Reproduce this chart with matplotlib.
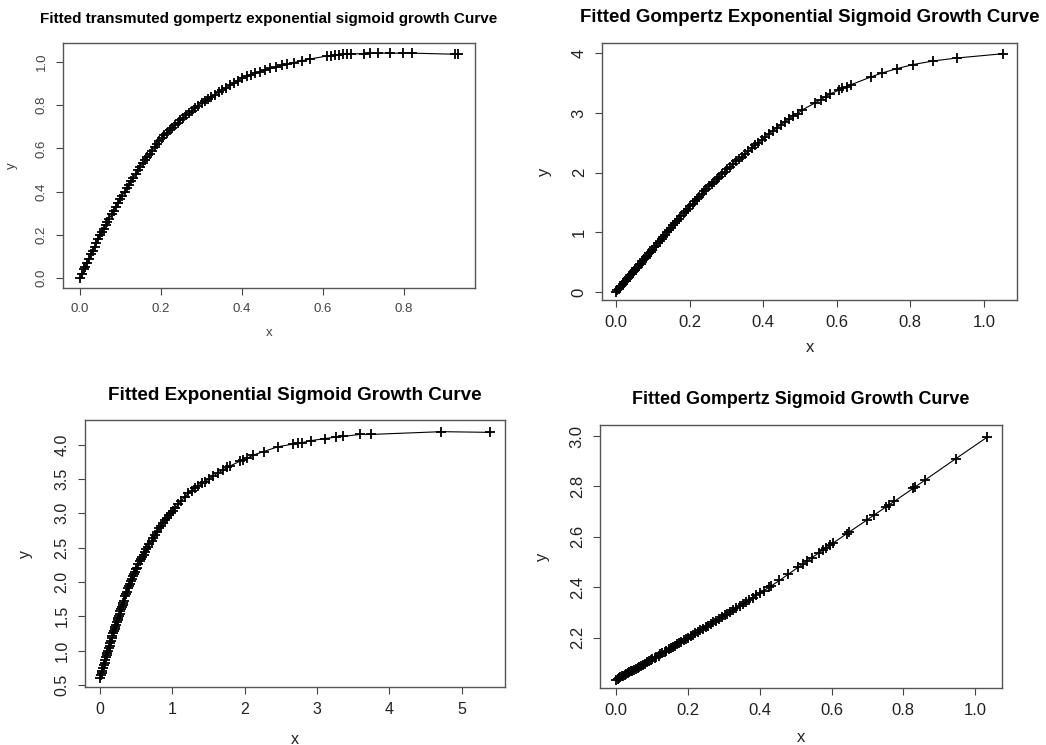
import matplotlib
matplotlib.use("Agg")
import matplotlib.pyplot as plt

plt.rcParams["font.family"] = ["Liberation Sans", "DejaVu Sans"]

# panel 1: transmuted gompertz exponential
x1 = [0.000, 0.005, 0.010, 0.013, 0.018, 0.022, 0.027, 0.031, 0.036, 0.040, 0.045, 0.050,
      0.054, 0.058, 0.063, 0.067, 0.072, 0.078, 0.083, 0.088, 0.094, 0.099, 0.104, 0.110,
      0.115, 0.121, 0.126, 0.132, 0.138, 0.143, 0.149, 0.155, 0.160, 0.166, 0.172, 0.178,
      0.184, 0.190, 0.196, 0.202, 0.208, 0.214, 0.221, 0.228, 0.234, 0.241, 0.248, 0.255,
      0.262, 0.270, 0.277, 0.284, 0.292, 0.300, 0.308, 0.316, 0.324, 0.333, 0.342, 0.351,
      0.360, 0.370, 0.380, 0.390, 0.400, 0.411, 0.422, 0.433, 0.445, 0.457, 0.470, 0.484,
      0.498, 0.512, 0.527, 0.548, 0.568, 0.610, 0.620, 0.630, 0.640, 0.650, 0.660, 0.670,
      0.700, 0.716, 0.736, 0.765, 0.797, 0.820, 0.926, 0.933]
y1 = [0.000, 0.020, 0.040, 0.050, 0.070, 0.090, 0.110, 0.125, 0.145, 0.160, 0.180, 0.200,
      0.214, 0.227, 0.244, 0.258, 0.275, 0.295, 0.312, 0.329, 0.349, 0.366, 0.382, 0.400,
      0.415, 0.432, 0.448, 0.465, 0.483, 0.498, 0.516, 0.533, 0.545, 0.560, 0.575, 0.590,
      0.605, 0.620, 0.635, 0.649, 0.660, 0.671, 0.683, 0.696, 0.707, 0.719, 0.731, 0.742,
      0.753, 0.765, 0.775, 0.786, 0.798, 0.810, 0.820, 0.829, 0.839, 0.849, 0.860, 0.871,
      0.881, 0.892, 0.903, 0.914, 0.925, 0.933, 0.941, 0.948, 0.956, 0.964, 0.970, 0.977,
      0.984, 0.990, 0.997, 1.006, 1.014, 1.028, 1.030, 1.032, 1.034, 1.035, 1.036, 1.037,
      1.039, 1.040, 1.041, 1.041, 1.041, 1.041, 1.036, 1.036]

# panel 2: gompertz exponential
x2 = [0.000, 0.004, 0.008, 0.011, 0.015, 0.019, 0.023, 0.027, 0.031, 0.035, 0.039, 0.043,
      0.047, 0.051, 0.055, 0.059, 0.063, 0.067, 0.072, 0.076, 0.081, 0.085, 0.090, 0.094,
      0.099, 0.104, 0.109, 0.114, 0.119, 0.124, 0.129, 0.134, 0.139, 0.145, 0.150, 0.156,
      0.161, 0.167, 0.172, 0.178, 0.184, 0.190, 0.196, 0.202, 0.208, 0.214, 0.220, 0.227,
      0.233, 0.240, 0.246, 0.253, 0.260, 0.267, 0.274, 0.281, 0.288, 0.296, 0.303, 0.311,
      0.319, 0.327, 0.335, 0.343, 0.351, 0.360, 0.369, 0.378, 0.387, 0.396, 0.406, 0.416,
      0.426, 0.437, 0.448, 0.459, 0.470, 0.482, 0.494, 0.506, 0.542, 0.556, 0.570, 0.583,
      0.605, 0.615, 0.627, 0.638, 0.692, 0.724, 0.763, 0.808, 0.863, 0.928, 1.051]
y2 = [0.00, 0.03, 0.06, 0.08, 0.11, 0.14, 0.17, 0.19, 0.22, 0.25, 0.28, 0.31,
      0.34, 0.37, 0.40, 0.42, 0.45, 0.48, 0.52, 0.55, 0.58, 0.61, 0.65, 0.68,
      0.71, 0.75, 0.78, 0.82, 0.86, 0.89, 0.93, 0.96, 1.00, 1.04, 1.08, 1.12,
      1.16, 1.20, 1.23, 1.27, 1.32, 1.36, 1.40, 1.44, 1.48, 1.52, 1.56, 1.60,
      1.64, 1.69, 1.73, 1.77, 1.81, 1.85, 1.89, 1.93, 1.97, 2.02, 2.06, 2.10,
      2.14, 2.19, 2.23, 2.27, 2.31, 2.36, 2.41, 2.46, 2.50, 2.55, 2.60, 2.65,
      2.70, 2.75, 2.80, 2.85, 2.90, 2.95, 2.99, 3.05, 3.17, 3.22, 3.27, 3.32,
      3.38, 3.41, 3.44, 3.47, 3.60, 3.67, 3.74, 3.81, 3.87, 3.92, 3.99]

# panel 3: exponential
x3 = [0.00, 0.01, 0.02, 0.03, 0.04, 0.05, 0.06, 0.07, 0.08, 0.09, 0.10, 0.11, 0.12, 0.13,
      0.14, 0.15, 0.16, 0.17, 0.18, 0.19, 0.20, 0.21, 0.22, 0.23, 0.24, 0.25, 0.26, 0.27,
      0.28, 0.29, 0.30, 0.31, 0.32, 0.33, 0.35, 0.36, 0.37, 0.39, 0.40, 0.41, 0.43, 0.44,
      0.46, 0.47, 0.48, 0.50, 0.51, 0.53, 0.55, 0.56, 0.58, 0.60, 0.62, 0.64, 0.66, 0.68,
      0.71, 0.73, 0.76, 0.78, 0.81, 0.84, 0.87, 0.90, 0.92, 0.95, 0.98, 1.01, 1.04, 1.08,
      1.12, 1.17, 1.22, 1.27, 1.31, 1.36, 1.41, 1.45, 1.50, 1.56, 1.63, 1.70, 1.76, 1.80,
      1.93, 1.98, 2.03, 2.12, 2.26, 2.46, 2.67, 2.73, 2.79, 2.92, 3.11, 3.26, 3.36, 3.59,
      3.75, 4.72, 5.39]
y3 = [0.60, 0.64, 0.67, 0.71, 0.75, 0.79, 0.82, 0.86, 0.90, 0.93, 0.97, 1.00, 1.04, 1.07,
      1.11, 1.14, 1.18, 1.21, 1.25, 1.28, 1.32, 1.35, 1.38, 1.41, 1.44, 1.48, 1.51, 1.54,
      1.57, 1.60, 1.63, 1.66, 1.70, 1.73, 1.79, 1.82, 1.85, 1.91, 1.94, 1.97, 2.02, 2.04,
      2.09, 2.12, 2.14, 2.19, 2.21, 2.26, 2.31, 2.33, 2.37, 2.40, 2.44, 2.48, 2.51, 2.55,
      2.60, 2.64, 2.69, 2.73, 2.78, 2.82, 2.86, 2.90, 2.93, 2.97, 3.01, 3.04, 3.08, 3.13,
      3.18, 3.24, 3.29, 3.33, 3.37, 3.40, 3.44, 3.46, 3.50, 3.54, 3.59, 3.63, 3.67, 3.69,
      3.76, 3.78, 3.80, 3.85, 3.90, 3.97, 4.01, 4.02, 4.03, 4.06, 4.09, 4.11, 4.12, 4.15,
      4.15, 4.19, 4.18]

# panel 4: gompertz
x4 = [0.000, 0.004, 0.008, 0.012, 0.016, 0.020, 0.024, 0.028, 0.032, 0.037, 0.041, 0.045,
      0.050, 0.055, 0.060, 0.065, 0.070, 0.075, 0.080, 0.085, 0.091, 0.096, 0.101, 0.107,
      0.112, 0.118, 0.123, 0.129, 0.135, 0.140, 0.146, 0.152, 0.158, 0.164, 0.170, 0.176,
      0.182, 0.188, 0.195, 0.201, 0.208, 0.214, 0.221, 0.228, 0.235, 0.242, 0.249, 0.256,
      0.263, 0.271, 0.278, 0.286, 0.294, 0.302, 0.310, 0.318, 0.326, 0.335, 0.344, 0.353,
      0.362, 0.371, 0.381, 0.391, 0.401, 0.412, 0.425, 0.432, 0.455, 0.480, 0.508, 0.520,
      0.533, 0.545, 0.564, 0.575, 0.585, 0.595, 0.605, 0.643, 0.650, 0.700, 0.717, 0.752,
      0.760, 0.775, 0.828, 0.833, 0.861, 0.946, 1.033]
y4 = [2.033, 2.036, 2.039, 2.043, 2.046, 2.049, 2.052, 2.055, 2.059, 2.063, 2.066, 2.069,
      2.073, 2.077, 2.081, 2.085, 2.089, 2.093, 2.097, 2.102, 2.107, 2.111, 2.115, 2.120,
      2.124, 2.129, 2.133, 2.138, 2.143, 2.148, 2.153, 2.158, 2.163, 2.168, 2.173, 2.178,
      2.184, 2.189, 2.195, 2.200, 2.206, 2.211, 2.217, 2.223, 2.229, 2.236, 2.242, 2.248,
      2.254, 2.261, 2.267, 2.274, 2.281, 2.288, 2.295, 2.302, 2.309, 2.317, 2.325, 2.333,
      2.341, 2.350, 2.359, 2.368, 2.377, 2.387, 2.399, 2.405, 2.427, 2.452, 2.480, 2.492,
      2.505, 2.517, 2.536, 2.547, 2.556, 2.566, 2.576, 2.613, 2.620, 2.668, 2.685, 2.719,
      2.727, 2.741, 2.793, 2.798, 2.826, 2.910, 2.995]

titles = ["Fitted transmuted gompertz exponential sigmoid growth Curve",
          "Fitted Gompertz Exponential Sigmoid Growth Curve",
          "Fitted Exponential Sigmoid Growth Curve",
          "Fitted Gompertz Sigmoid Growth Curve"]

xticks = [[0, 0.2, 0.4, 0.6, 0.8], [0, 0.2, 0.4, 0.6, 0.8, 1.0],
          [0, 1, 2, 3, 4, 5], [0, 0.2, 0.4, 0.6, 0.8, 1.0]]
xticklabels = [["0.0", "0.2", "0.4", "0.6", "0.8"],
               ["0.0", "0.2", "0.4", "0.6", "0.8", "1.0"],
               ["0", "1", "2", "3", "4", "5"],
               ["0.0", "0.2", "0.4", "0.6", "0.8", "1.0"]]
yticks = [[0, 0.2, 0.4, 0.6, 0.8, 1.0], [0, 1, 2, 3, 4],
          [0.5, 1.0, 1.5, 2.0, 2.5, 3.0, 3.5, 4.0], [2.2, 2.4, 2.6, 2.8, 3.0]]
yticklabels = [["0.0", "0.2", "0.4", "0.6", "0.8", "1.0"],
               ["0", "1", "2", "3", "4"],
               ["0.5", "1.0", "1.5", "2.0", "2.5", "3.0", "3.5", "4.0"],
               ["2.2", "2.4", "2.6", "2.8", "3.0"]]

W, H = 1046, 745
fig = plt.figure(figsize=(W / 100, H / 100), dpi=100)

# pixel boxes: left, top, right, bottom
boxes = [(63, 43, 475, 288), (602, 43, 1017, 300), (85, 420, 505, 687), (600, 425, 1002, 688)]
xlims = [(-0.042, 0.975), (-0.038, 1.09), (-0.21, 5.6), (-0.045, 1.075)]
ylims = [(-0.046, 1.088), (-0.13, 4.17), (0.47, 4.36), (2.0, 3.044)]
title_y = [19, 17, 395, 399]
title_fs = [11.0, 13.4, 13.6, 12.9]
tick_fs = [9.5, 12, 11.5, 12]
tick_col = ["#444444", "#222222", "#222222", "#222222"]
xlab_y = [333, 348, 739, 737]
ylab_x = [12, 545, 25, 543]
data = [(x1, y1), (x2, y2), (x3, y3), (x4, y4)]

for i in range(4):
    l, t, r, b = boxes[i]
    ax = fig.add_axes([l / W, 1 - b / H, (r - l) / W, (b - t) / H])
    xs, ys = data[i]
    ax.plot(xs, ys, color="black", lw=0.8)
    ax.plot(xs, ys, ls="none", marker="+", ms=7, mew=1.3, color="black")
    ax.set_xlim(xlims[i])
    ax.set_ylim(ylims[i])
    ax.set_xticks(xticks[i])
    ax.set_xticklabels(xticklabels[i])
    ax.set_yticks(yticks[i])
    ax.set_yticklabels(yticklabels[i], rotation=90, va="center")
    ax.tick_params(length=5, width=0.8, color="#444444", labelsize=tick_fs[i], pad=6,
                   labelcolor=tick_col[i])
    for s in ax.spines.values():
        s.set_color("#555555")
        s.set_linewidth(1.0)
    fig.text((l + r) / 2 / W, 1 - title_y[i] / H, titles[i], ha="center", va="center",
             fontsize=title_fs[i], fontweight="bold")
    fig.text((l + r) / 2 / W, 1 - xlab_y[i] / H, "x", ha="center", va="center",
             fontsize=tick_fs[i], color=tick_col[i])
    fig.text(ylab_x[i] / W, 1 - (t + b) / 2 / H, "y", ha="center", va="center",
             fontsize=tick_fs[i], rotation=90, color=tick_col[i])

fig.savefig("out.png", dpi=100)
